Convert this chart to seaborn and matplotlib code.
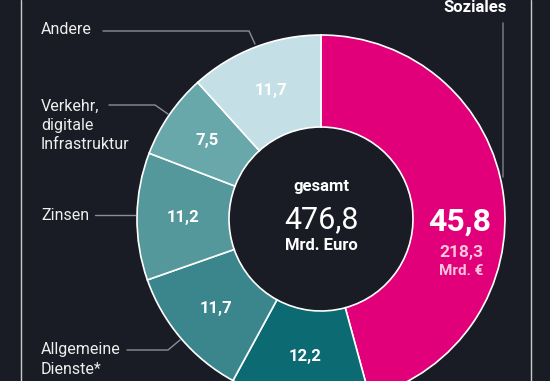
import matplotlib
matplotlib.use("Agg")
import matplotlib.pyplot as plt
import seaborn as sns
import numpy as np

# data (clockwise from top)
categories = ["Soziales", "", "Allgemeine\nDienste*", "Zinsen", "Verkehr,\ndigitale\nInfrastruktur", "Andere"]
values = [45.8, 12.2, 11.7, 11.2, 7.5, 11.7]
value_labels = ["45,8", "12,2", "11,7", "11,2", "7,5", "11,7"]
colors = ["#e2007a", "#0b6a72", "#3b868c", "#54989c", "#68a7aa", "#c4dfe5"]
total_label = "476,8"
soziales_abs = "218,3"

sns.set_theme(style="dark")
plt.rcParams["font.family"] = ["Roboto", "DejaVu Sans"]

BG = "#1a1c25"
W, H = 550, 381
fig = plt.figure(figsize=(5.5, 3.81), dpi=100, facecolor=BG)
ax = fig.add_axes([0, 0, 1, 1])
ax.set_facecolor(BG)

def Y(y):
    return H - y

cx, cy = 321, Y(219)
R, r = 184, 92
wedges, _ = ax.pie(values, colors=colors, startangle=90, counterclock=False,
                   radius=R, center=(cx, cy), frame=True,
                   wedgeprops=dict(width=R - r, edgecolor="white", linewidth=1.2))
ax.set_xlim(0, W)
ax.set_ylim(0, H)
ax.set_aspect("equal")
ax.axis("off")

# value labels inside wedges
for i, w in enumerate(wedges):
    if i == 0:
        continue
    ang = np.deg2rad((w.theta1 + w.theta2) / 2)
    rm = (R + r) / 2
    ax.text(cx + rm * np.cos(ang), cy + rm * np.sin(ang), value_labels[i],
            color="white", fontsize=12, fontweight="bold", ha="center", va="center")

# Soziales labels
ax.text(460, Y(222), value_labels[0], color="white", fontsize=23, fontweight="bold",
        ha="center", va="center")
ax.text(461, Y(253), soziales_abs, color="#f9c5dc", fontsize=12.5, fontweight="bold",
        ha="center", va="center")
ax.text(461, Y(271), "Mrd. €", color="#f9c5dc", fontsize=11, fontweight="bold",
        ha="center", va="center")
ax.text(475, Y(7), categories[0], color="white", fontsize=12, fontweight="bold",
        ha="center", va="center")

# center text
ax.text(cx, Y(186), "gesamt", color="white", fontsize=12, fontweight="bold", ha="center", va="center")
ax.text(cx, Y(220), total_label, color="white", fontsize=22, ha="center", va="center")
ax.text(cx, Y(246), "Mrd. Euro", color="white", fontsize=12, fontweight="bold", ha="center", va="center")

# left category labels
lab_col = "#eeeeee"
fs = 11.5
ax.text(41, Y(30), categories[5], color=lab_col, fontsize=fs, ha="left", va="center")
ax.text(41, Y(125.5), categories[4], color=lab_col, fontsize=fs, ha="left", va="center",
        linespacing=1.35)
ax.text(41, Y(359.5), categories[2], color=lab_col, fontsize=fs, ha="left", va="center",
        linespacing=1.35)
ax.text(41, Y(215), categories[3], color=lab_col, fontsize=fs, ha="left", va="center")

# leader lines
lc = "#8b8e96"
ax.plot([103, 249, 255], [Y(31), Y(31), Y(44)], color=lc, lw=1)
ax.plot([109, 155, 168], [Y(105), Y(105), Y(114)], color=lc, lw=1)
ax.plot([95, 135], [Y(215), Y(215)], color=lc, lw=1)
ax.plot([127, 168, 180], [Y(350), Y(350), Y(340)], color=lc, lw=1)
ax.plot([503, 503], [Y(23), Y(177)], color="#6d707a", lw=1.2)

# frame lines
ax.plot([21, 21], [0, H], color="#c9cacf", lw=1)
ax.plot([531, 531], [0, H], color="#c9cacf", lw=1)

fig.savefig("out.png", dpi=100, facecolor=BG)
